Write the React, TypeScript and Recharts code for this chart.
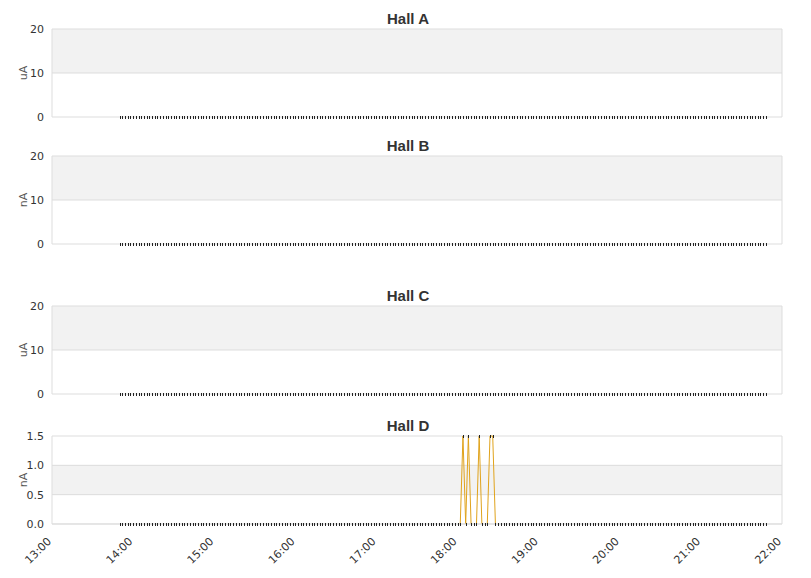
import React from 'react';
import { LineChart, Line, XAxis, YAxis, CartesianGrid, ReferenceLine } from 'recharts';

// samples every 2 minutes, 13:50 .. 21:48
const startMinute = 830;
const stepMinutes = 2;

const hallA = [
  0, 0, 0, 0, 0, 0, 0, 0, 0, 0, 0, 0, 0, 0, 0, 0, 0, 0, 0, 0,
  0, 0, 0, 0, 0, 0, 0, 0, 0, 0, 0, 0, 0, 0, 0, 0, 0, 0, 0, 0,
  0, 0, 0, 0, 0, 0, 0, 0, 0, 0, 0, 0, 0, 0, 0, 0, 0, 0, 0, 0,
  0, 0, 0, 0, 0, 0, 0, 0, 0, 0, 0, 0, 0, 0, 0, 0, 0, 0, 0, 0,
  0, 0, 0, 0, 0, 0, 0, 0, 0, 0, 0, 0, 0, 0, 0, 0, 0, 0, 0, 0,
  0, 0, 0, 0, 0, 0, 0, 0, 0, 0, 0, 0, 0, 0, 0, 0, 0, 0, 0, 0,
  0, 0, 0, 0, 0, 0, 0, 0, 0, 0, 0, 0, 0, 0, 0, 0, 0, 0, 0, 0,
  0, 0, 0, 0, 0, 0, 0, 0, 0, 0, 0, 0, 0, 0, 0, 0, 0, 0, 0, 0,
  0, 0, 0, 0, 0, 0, 0, 0, 0, 0, 0, 0, 0, 0, 0, 0, 0, 0, 0, 0,
  0, 0, 0, 0, 0, 0, 0, 0, 0, 0, 0, 0, 0, 0, 0, 0, 0, 0, 0, 0,
  0, 0, 0, 0, 0, 0, 0, 0, 0, 0, 0, 0, 0, 0, 0, 0, 0, 0, 0, 0,
  0, 0, 0, 0, 0, 0, 0, 0, 0, 0, 0, 0, 0, 0, 0, 0, 0, 0, 0, 0,
];

const hallB = [
  0, 0, 0, 0, 0, 0, 0, 0, 0, 0, 0, 0, 0, 0, 0, 0, 0, 0, 0, 0,
  0, 0, 0, 0, 0, 0, 0, 0, 0, 0, 0, 0, 0, 0, 0, 0, 0, 0, 0, 0,
  0, 0, 0, 0, 0, 0, 0, 0, 0, 0, 0, 0, 0, 0, 0, 0, 0, 0, 0, 0,
  0, 0, 0, 0, 0, 0, 0, 0, 0, 0, 0, 0, 0, 0, 0, 0, 0, 0, 0, 0,
  0, 0, 0, 0, 0, 0, 0, 0, 0, 0, 0, 0, 0, 0, 0, 0, 0, 0, 0, 0,
  0, 0, 0, 0, 0, 0, 0, 0, 0, 0, 0, 0, 0, 0, 0, 0, 0, 0, 0, 0,
  0, 0, 0, 0, 0, 0, 0, 0, 0, 0, 0, 0, 0, 0, 0, 0, 0, 0, 0, 0,
  0, 0, 0, 0, 0, 0, 0, 0, 0, 0, 0, 0, 0, 0, 0, 0, 0, 0, 0, 0,
  0, 0, 0, 0, 0, 0, 0, 0, 0, 0, 0, 0, 0, 0, 0, 0, 0, 0, 0, 0,
  0, 0, 0, 0, 0, 0, 0, 0, 0, 0, 0, 0, 0, 0, 0, 0, 0, 0, 0, 0,
  0, 0, 0, 0, 0, 0, 0, 0, 0, 0, 0, 0, 0, 0, 0, 0, 0, 0, 0, 0,
  0, 0, 0, 0, 0, 0, 0, 0, 0, 0, 0, 0, 0, 0, 0, 0, 0, 0, 0, 0,
];

const hallC = [
  0, 0, 0, 0, 0, 0, 0, 0, 0, 0, 0, 0, 0, 0, 0, 0, 0, 0, 0, 0,
  0, 0, 0, 0, 0, 0, 0, 0, 0, 0, 0, 0, 0, 0, 0, 0, 0, 0, 0, 0,
  0, 0, 0, 0, 0, 0, 0, 0, 0, 0, 0, 0, 0, 0, 0, 0, 0, 0, 0, 0,
  0, 0, 0, 0, 0, 0, 0, 0, 0, 0, 0, 0, 0, 0, 0, 0, 0, 0, 0, 0,
  0, 0, 0, 0, 0, 0, 0, 0, 0, 0, 0, 0, 0, 0, 0, 0, 0, 0, 0, 0,
  0, 0, 0, 0, 0, 0, 0, 0, 0, 0, 0, 0, 0, 0, 0, 0, 0, 0, 0, 0,
  0, 0, 0, 0, 0, 0, 0, 0, 0, 0, 0, 0, 0, 0, 0, 0, 0, 0, 0, 0,
  0, 0, 0, 0, 0, 0, 0, 0, 0, 0, 0, 0, 0, 0, 0, 0, 0, 0, 0, 0,
  0, 0, 0, 0, 0, 0, 0, 0, 0, 0, 0, 0, 0, 0, 0, 0, 0, 0, 0, 0,
  0, 0, 0, 0, 0, 0, 0, 0, 0, 0, 0, 0, 0, 0, 0, 0, 0, 0, 0, 0,
  0, 0, 0, 0, 0, 0, 0, 0, 0, 0, 0, 0, 0, 0, 0, 0, 0, 0, 0, 0,
  0, 0, 0, 0, 0, 0, 0, 0, 0, 0, 0, 0, 0, 0, 0, 0, 0, 0, 0, 0,
];

const hallD = [
  0, 0, 0, 0, 0, 0, 0, 0, 0, 0, 0, 0, 0, 0, 0, 0, 0, 0, 0, 0,
  0, 0, 0, 0, 0, 0, 0, 0, 0, 0, 0, 0, 0, 0, 0, 0, 0, 0, 0, 0,
  0, 0, 0, 0, 0, 0, 0, 0, 0, 0, 0, 0, 0, 0, 0, 0, 0, 0, 0, 0,
  0, 0, 0, 0, 0, 0, 0, 0, 0, 0, 0, 0, 0, 0, 0, 0, 0, 0, 0, 0,
  0, 0, 0, 0, 0, 0, 0, 0, 0, 0, 0, 0, 0, 0, 0, 0, 0, 0, 0, 0,
  0, 0, 0, 0, 0, 0, 0, 0, 0, 0, 0, 0, 0, 0, 0, 0, 0, 0, 0, 0,
  0, 0, 0, 0, 0, 0, 0, 1.5, 0, 1.5, 0, 0, 0, 1.5, 0, 0, 0, 1.5, 1.5, 0,
  0, 0, 0, 0, 0, 0, 0, 0, 0, 0, 0, 0, 0, 0, 0, 0, 0, 0, 0, 0,
  0, 0, 0, 0, 0, 0, 0, 0, 0, 0, 0, 0, 0, 0, 0, 0, 0, 0, 0, 0,
  0, 0, 0, 0, 0, 0, 0, 0, 0, 0, 0, 0, 0, 0, 0, 0, 0, 0, 0, 0,
  0, 0, 0, 0, 0, 0, 0, 0, 0, 0, 0, 0, 0, 0, 0, 0, 0, 0, 0, 0,
  0, 0, 0, 0, 0, 0, 0, 0, 0, 0, 0, 0, 0, 0, 0, 0, 0, 0, 0, 0,
];

const hourTicks = [780, 840, 900, 960, 1020, 1080, 1140, 1200, 1260, 1320];
const bigTicks = [0, 10, 20];
const smallTicks = [0, 0.5, 1, 1.5];

const panels = [
  { title: 'Hall A', unit: 'uA', values: hallA, ticks: bigTicks, top: 0, bands: ['#f2f2f2', '#ffffff'] },
  { title: 'Hall B', unit: 'nA', values: hallB, ticks: bigTicks, top: 127, bands: ['#f2f2f2', '#ffffff'] },
  { title: 'Hall C', unit: 'uA', values: hallC, ticks: bigTicks, top: 277, bands: ['#f2f2f2', '#ffffff'] },
  { title: 'Hall D', unit: 'nA', values: hallD, ticks: smallTicks, top: 407, bands: ['#ffffff', '#f2f2f2'] },
];

const FONT = '"DejaVu Sans", Verdana, sans-serif';

const fmtHour = (m: number) => `${Math.floor(m / 60)}:${String(m % 60).padStart(2, '0')}`;

const Dot = (props: any) => {
  const { cx, cy, index } = props;
  if (cx == null || cy == null) return <g key={`d-${index}`} />;
  return (
    <rect
      key={`d-${index}`}
      x={Math.round(cx)}
      y={Math.round(cy) - 1}
      width={1}
      height={3}
      fill="#222"
      shapeRendering="crispEdges"
    />
  );
};

const TimeTick = (props: any) => {
  const { x, y, payload } = props;
  return (
    <text
      transform={`translate(${x},${y + 10}) rotate(-45)`}
      textAnchor="end"
      fontSize={11}
      fontFamily={FONT}
      fill="#333"
    >
      {fmtHour(payload.value)}
    </text>
  );
};

const Panel = ({ p, last }: { p: (typeof panels)[number]; last: boolean }) => {
  const data = p.values.map((v, i) => ({
    t: startMinute + i * stepMinutes,
    v,
    spike: v > 0 || p.values[i - 1] > 0 || p.values[i + 1] > 0 ? v : null,
  }));
  const max = p.ticks[p.ticks.length - 1];
  const height = last ? 171 : 130;
  return (
    <div style={{ position: 'absolute', left: 0, top: p.top, width: 811, height }}>
      <LineChart width={811} height={height} data={data} margin={{ top: 29, right: 29, left: 0, bottom: last ? 0 : 13 }}>
        <CartesianGrid vertical={false} stroke="#dddddd" horizontalFill={p.bands} />
        <XAxis
          dataKey="t"
          type="number"
          domain={[780, 1320]}
          ticks={hourTicks}
          hide={!last}
          height={54}
          tickLine={false}
          axisLine={{ stroke: '#dddddd' }}
          tick={<TimeTick />}
          interval={0}
        />
        <YAxis
          type="number"
          domain={[0, max]}
          ticks={p.ticks}
          width={52}
          tickLine={false}
          axisLine={{ stroke: '#dddddd' }}
          tick={{ fontSize: 11, fontFamily: FONT, fill: '#333' }}
          tickFormatter={(v: number) => (max < 5 ? v.toFixed(1) : String(v))}
          interval={0}
          label={{ value: p.unit, angle: -90, position: 'center', dx: -3, fontSize: 11, fontFamily: FONT, fill: '#555' }}
        />
        <ReferenceLine x={1320} stroke="#dddddd" />
        <Line
          dataKey="spike"
          stroke="#e0a31c"
          strokeWidth={1}
          dot={false}
          activeDot={false}
          connectNulls={false}
          isAnimationActive={false}
        />
        <Line
          dataKey="v"
          stroke="none"
          dot={<Dot />}
          activeDot={false}
          isAnimationActive={false}
        />
      </LineChart>
    </div>
  );
};

export default function App() {
  return (
    <div style={{ position: 'absolute', left: 0, top: 0, width: 811, height: 578, background: '#fff', overflow: 'hidden' }}>
      {panels.map((p, i) => (
        <Panel key={p.title} p={p} last={i === panels.length - 1} />
      ))}
      {panels.map((p) => (
        <div
          key={`t-${p.title}`}
          style={{
            position: 'absolute',
            left: 0,
            width: 816,
            top: p.top + 11,
            textAlign: 'center',
            fontFamily: '"Liberation Sans", Arial, sans-serif',
            fontWeight: 'bold',
            fontSize: 15,
            lineHeight: '16px',
            color: '#333',
          }}
        >
          {p.title}
        </div>
      ))}
    </div>
  );
}
